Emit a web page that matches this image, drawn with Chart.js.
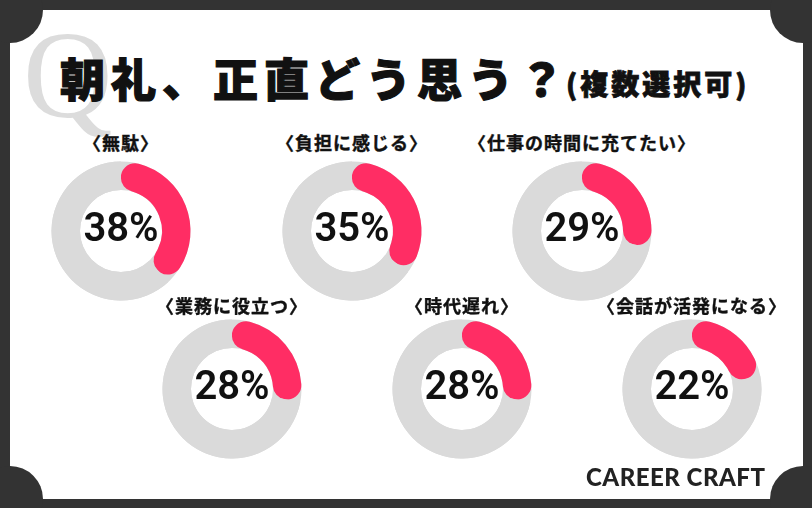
<!DOCTYPE html>
<html lang="ja">
<head>
<meta charset="utf-8">
<script src="https://cdn.jsdelivr.net/npm/chart.js@4/dist/chart.umd.min.js"></script>
<style>
  html, body { margin: 0; padding: 0; }
  body { width: 812px; height: 508px; background: #333333; position: relative; overflow: hidden; }
  .card { position: absolute; left: 10px; top: 10px; width: 793px; height: 489px; background: #ffffff; }
  .corner { position: absolute; width: 66px; height: 66px; border-radius: 50%; background: #333333; }
  .q { position: absolute; left: 23px; top: 14px; font-family: "Liberation Serif", serif; font-size: 124px; line-height: 124px; color: #dcdcdc; }
  .title { position: absolute; left: 60px; top: 55px; font-family: "Noto Sans CJK JP", sans-serif; font-weight: 900; font-size: 45px; line-height: 45px; letter-spacing: 6px; color: #111; white-space: nowrap; -webkit-text-stroke: 1.2px #111; }
  .title small { font-size: 28px; letter-spacing: 3px; -webkit-text-stroke: 0.8px #111; position: relative; top: -2px; margin-left: -4px; }
  .label { position: absolute; width: 300px; text-align: center; font-family: "Noto Sans CJK JP", sans-serif; font-weight: 700; font-size: 18px; line-height: 24px; letter-spacing: 1px; color: #111; white-space: nowrap; -webkit-text-stroke: 0.4px #111; }
  .chart { position: absolute; width: 160px; height: 160px; }
  .logo { position: absolute; left: 586px; top: 462px; font-family: Lato, sans-serif; font-weight: 900; font-size: 24px; line-height: 30px; color: #222; letter-spacing: 0.5px; }
</style>
</head>
<body>
<div class="card"></div>
<div class="corner" style="left:-23px; top:-23px"></div>
<div class="corner" style="left:770px; top:-23px"></div>
<div class="corner" style="left:-23px; top:466px"></div>
<div class="corner" style="left:770px; top:466px"></div>
<div class="q">Q</div>
<div class="title">朝礼、正直どう思う？<small>(複数選択可)</small></div>
<div id="charts"></div>
<div class="logo">CAREER CRAFT</div>
<script>
// Answers and their share (%) of respondents
const categories = ['無駄', '負担に感じる', '仕事の時間に充てたい', '業務に役立つ', '時代遅れ', '会話が活発になる'];
const shares = [38, 35, 29, 28, 28, 22];

// Grid placement of each ring (centre x, centre y) and its heading line
const centres = [[121, 231], [352, 231], [582, 231], [232, 389], [462, 389], [692, 389]];
const headingY = [142, 142, 142, 305, 305, 305];

const PINK = '#ff2d64';
const GREY = '#dadada';

// Full grey track under the rounded pink arc
const trackPlugin = {
  id: 'track',
  beforeDatasetsDraw(chart) {
    const arc = chart.getDatasetMeta(0).data[0];
    const { x, y, innerRadius, outerRadius } = arc.getProps(['x', 'y', 'innerRadius', 'outerRadius'], true);
    const ctx = chart.ctx;
    ctx.save();
    ctx.beginPath();
    ctx.arc(x, y, outerRadius, 0, Math.PI * 2);
    ctx.arc(x, y, innerRadius, Math.PI * 2, 0, true);
    ctx.closePath();
    ctx.fillStyle = GREY;
    ctx.fill();
    ctx.restore();
  }
};

// Percentage printed in the hole
const centreText = {
  id: 'centreText',
  afterDatasetsDraw(chart) {
    const arc = chart.getDatasetMeta(0).data[0];
    const value = chart.data.datasets[0].data[0];
    const ctx = chart.ctx;
    ctx.save();
    ctx.font = '600 40px Roboto, sans-serif';
    ctx.fillStyle = '#111';
    ctx.textAlign = 'center';
    ctx.textBaseline = 'middle';
    ctx.fillText(value + '%', arc.x, arc.y);
    ctx.restore();
  }
};

const host = document.getElementById('charts');
categories.forEach((name, i) => {
  const [cx, cy] = centres[i];

  const label = document.createElement('div');
  label.className = 'label';
  label.textContent = '〈' + name + '〉';
  label.style.left = (cx - 150) + 'px';
  label.style.top = (headingY[i] - 12) + 'px';
  host.appendChild(label);

  const box = document.createElement('div');
  box.className = 'chart';
  box.style.left = (cx - 80) + 'px';
  box.style.top = (cy - 80) + 'px';
  const canvas = document.createElement('canvas');
  box.appendChild(canvas);
  host.appendChild(box);

  new Chart(canvas, {
    type: 'doughnut',
    data: {
      labels: [name, ''],
      datasets: [{
        data: [shares[i], 100 - shares[i]],
        backgroundColor: [PINK, GREY],
        borderWidth: 0,
        borderRadius: [40, 0]
      }]
    },
    options: {
      responsive: true,
      maintainAspectRatio: false,
      animation: false,
      events: [],
      radius: 69.5,
      cutout: '59%',
      plugins: { legend: { display: false }, tooltip: { enabled: false } }
    },
    plugins: [trackPlugin, centreText]
  });
});
</script>
</body>
</html>
